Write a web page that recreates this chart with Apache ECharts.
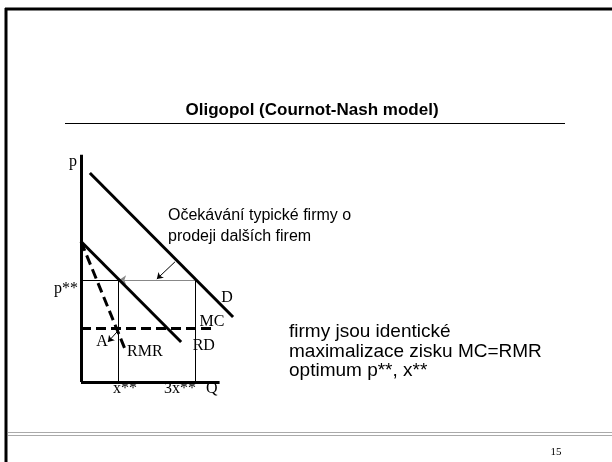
<!DOCTYPE html>
<html>
<head>
<meta charset="utf-8">
<script src="https://cdn.jsdelivr.net/npm/echarts@6/dist/echarts.min.js"></script>
<style>
html, body { margin: 0; padding: 0; background: #fff; }
#chart { width: 612px; height: 462px; }
</style>
</head>
<body>
<div id="chart"></div>
<script>
// osy grafu (p svisle, Q vodorovne)
var axisP = [[0, 0], [0, 59]];
var axisQ = [[0, 0], [36, 0]];
// trzni poptavka D
var curveD = [[2.3, 54.3], [39.5, 16.9]];
// reziduální poptávka RD
var curveRD = [[0, 36.5], [26, 10.4]];
// reziduální mezní příjem RMR
var curveRMR = [[0, 36.5], [11.4, 8.6]];
// mezni naklady MC
var levelMC = 14;
var endMC = 34.3;
// optimum
var pStar = 26.5;
var xStar = 9.6;
var x3Star = 29.6;
// sipky
var arrowExpect = [[24.4, 31.2], [19.7, 26.75]];
var arrowA = [[9.35, 13], [7.0, 10.4]];
// popisky krivek
var labelNames = ['p', 'p**', 'D', 'MC', 'RD', 'RMR', 'A', 'x**', '3x**', 'Q'];
var labelX = [-2.1, -3.9, 37.9, 34.0, 31.9, 16.6, 5.45, 11.4, 25.7, 34.0];
var labelY = [57.1, 24.2, 21.8, 15.6, 9.35, 7.8, 10.4, -1.8, -1.8, -1.8];

function seg(coords) {
    return { coords: coords };
}

var thick = { color: '#000', width: 3, opacity: 1 };
var thin = { color: '#000', width: 1, opacity: 1 };
var sans = '"Liberation Sans", Arial, sans-serif';

var labelData = [];
for (var i = 0; i < labelNames.length; i++) {
    labelData.push({ name: labelNames[i], value: [labelX[i], labelY[i]] });
}

var myChart = echarts.init(document.getElementById('chart'));

var option = {
    animation: false,
    backgroundColor: '#fff',
    grid: { left: 57.9, top: 151, width: 184.8, height: 246.4 },
    xAxis: { type: 'value', min: -6, max: 42, show: false },
    yAxis: { type: 'value', min: -4, max: 60, show: false },
    graphic: [
        // ramecek slajdu
        { type: 'line', shape: { x1: 5, y1: 9, x2: 612, y2: 9 }, style: { stroke: '#000', lineWidth: 3 } },
        { type: 'line', shape: { x1: 6, y1: 8, x2: 6, y2: 462 }, style: { stroke: '#000', lineWidth: 3 } },
        // nadpis
        { type: 'text', x: 312, y: 110, style: { text: 'Oligopol (Cournot-Nash model)', font: 'bold 17px ' + sans, fill: '#000', textAlign: 'center', textVerticalAlign: 'middle' } },
        { type: 'line', shape: { x1: 65, y1: 123.5, x2: 565, y2: 123.5 }, style: { stroke: '#000', lineWidth: 1 } },
        // paticka
        { type: 'line', shape: { x1: 8, y1: 432.5, x2: 612, y2: 432.5 }, style: { stroke: '#aaa', lineWidth: 1 } },
        { type: 'line', shape: { x1: 8, y1: 435.5, x2: 612, y2: 435.5 }, style: { stroke: '#aaa', lineWidth: 1 } },
        { type: 'text', x: 556, y: 452, style: { text: '15', font: '11px "Liberation Serif", serif', fill: '#000', textAlign: 'center', textVerticalAlign: 'middle' } },
        // komentar k sipce
        { type: 'text', x: 168, y: 216, style: { text: 'Očekávání typické firmy o', font: '16px ' + sans, fill: '#000', textVerticalAlign: 'middle' } },
        { type: 'text', x: 168, y: 237, style: { text: 'prodeji dalších firem', font: '16px ' + sans, fill: '#000', textVerticalAlign: 'middle' } },
        // text vpravo
        { type: 'text', x: 289, y: 332, style: { text: 'firmy jsou identické', font: '19px ' + sans, fill: '#000', textVerticalAlign: 'middle' } },
        { type: 'text', x: 289, y: 351.5, style: { text: 'maximalizace zisku MC=RMR', font: '19px ' + sans, fill: '#000', textVerticalAlign: 'middle' } },
        { type: 'text', x: 289, y: 371, style: { text: 'optimum p**, x**', font: '19px ' + sans, fill: '#000', textVerticalAlign: 'middle' } }
    ],
    series: [
        {
            // tenke pomocne cary
            type: 'lines', coordinateSystem: 'cartesian2d', polyline: false, silent: true,
            lineStyle: thin,
            data: [
                seg([[0, pStar], [xStar, pStar]]),
                seg([[xStar, 0], [xStar, pStar]]),
                seg([[x3Star, 0], [x3Star, pStar]])
            ]
        },
        {
            // sipka ocekavani (seda)
            type: 'lines', coordinateSystem: 'cartesian2d', polyline: false, silent: true,
            symbol: ['none', 'arrow'], symbolSize: 7,
            lineStyle: { color: '#888', width: 1, opacity: 1 },
            itemStyle: { color: '#000' },
            data: [seg([[x3Star, pStar], [xStar + 0.3, pStar]])]
        },
        {
            type: 'lines', coordinateSystem: 'cartesian2d', polyline: false, silent: true,
            symbol: ['none', 'arrow'], symbolSize: 6,
            lineStyle: thin,
            data: [seg(arrowExpect), seg(arrowA)]
        },
        {
            // osy a krivky D, RD
            type: 'lines', coordinateSystem: 'cartesian2d', polyline: false, silent: true,
            lineStyle: thick,
            data: [seg(axisP), seg(axisQ), seg(curveD), seg(curveRD)]
        },
        {
            // RMR a MC - carkovane
            type: 'lines', coordinateSystem: 'cartesian2d', polyline: false, silent: true,
            lineStyle: { color: '#000', width: 3, opacity: 1, type: [10, 5] },
            data: [seg(curveRMR), seg([[0, levelMC], [endMC, levelMC]])]
        },
        {
            type: 'scatter', symbolSize: 0, silent: true,
            itemStyle: { opacity: 1 },
            label: {
                show: true, position: 'inside', formatter: '{b}', opacity: 1,
                color: '#000', fontFamily: '"Liberation Serif", "Times New Roman", serif', fontSize: 16
            },
            data: labelData
        }
    ]
};

myChart.setOption(option);
</script>
</body>
</html>
